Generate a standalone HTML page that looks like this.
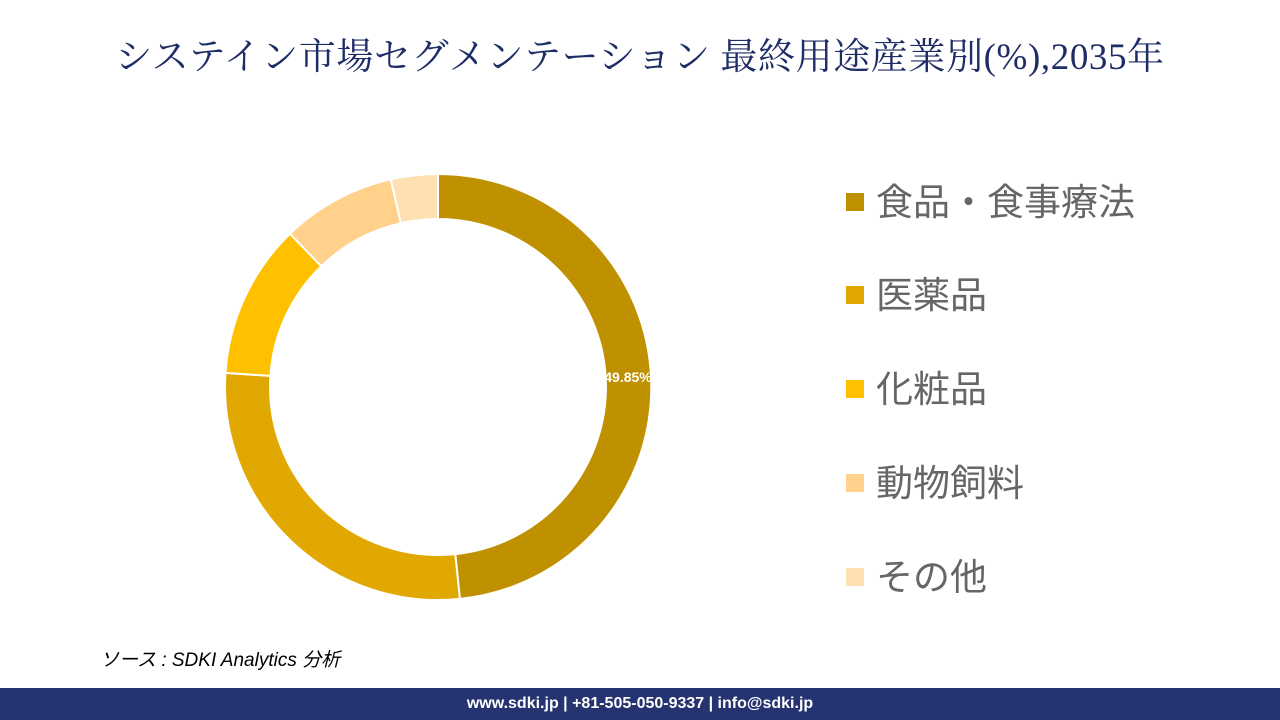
<!DOCTYPE html>
<html><head><meta charset="utf-8"><style>
html,body{margin:0;padding:0;background:#fff;}
body{width:1280px;height:720px;position:relative;overflow:hidden;font-family:"Liberation Sans","Noto Sans CJK JP",sans-serif;}
.title{position:absolute;left:0;width:1280px;top:26px;text-align:center;font-family:"Liberation Serif","Noto Serif CJK SC",serif;font-size:37px;color:#1f2d66;letter-spacing:0.6px;}
.leg{position:absolute;left:846px;font-size:37px;color:#666;line-height:40px;}
.leg span{display:inline-block;width:18px;height:18px;margin-right:12px;vertical-align:middle;position:relative;top:-3px;}
.src{position:absolute;left:100px;top:645px;font-size:19px;font-style:italic;color:#000;}
.foot{position:absolute;left:0;top:688px;width:1280px;height:32px;background:#253470;color:#fff;font-weight:bold;font-size:16px;text-align:center;line-height:32px;}
</style></head><body>
<div class="title">システイン市場セグメンテーション 最終用途産業別(%),2035年</div>
<svg width="1280" height="720" style="position:absolute;left:0;top:0">
<g stroke="#fff" stroke-width="2">
<path d="M438,174 A213,213 0 0 1 459.9,598.9 L455.3,554.1 A168,168 0 0 0 438,219 Z" fill="#bf9000"/>
<path d="M459.9,598.9 A213,213 0 0 1 225.5,372.9 L270.4,375.9 A168,168 0 0 0 455.3,554.1 Z" fill="#e0a800"/>
<path d="M225.5,372.9 A213,213 0 0 1 290,233.8 L321.3,266.2 A168,168 0 0 0 270.4,375.9 Z" fill="#ffc000"/>
<path d="M290,233.8 A213,213 0 0 1 390.8,179.3 L400.8,223.2 A168,168 0 0 0 321.3,266.2 Z" fill="#ffd18a"/>
<path d="M390.8,179.3 A213,213 0 0 1 438,174 L438,219 A168,168 0 0 0 400.8,223.2 Z" fill="#ffe0b3"/>
</g>
<text x="628" y="382" fill="#fff" font-weight="bold" font-size="14" text-anchor="middle" font-family="Liberation Sans,sans-serif">49.85%</text>
</svg>
<div class="leg" style="top:183px"><span style="background:#bf9000"></span>食品・食事療法</div>
<div class="leg" style="top:276px"><span style="background:#e0a800"></span>医薬品</div>
<div class="leg" style="top:370px"><span style="background:#ffc000"></span>化粧品</div>
<div class="leg" style="top:464px"><span style="background:#ffd18a"></span>動物飼料</div>
<div class="leg" style="top:558px"><span style="background:#ffe0b3"></span>その他</div>
<div class="src">ソース : SDKI Analytics 分析</div>
<div class="foot">www.sdki.jp | +81-505-050-9337 | info@sdki.jp</div>
</body></html>
